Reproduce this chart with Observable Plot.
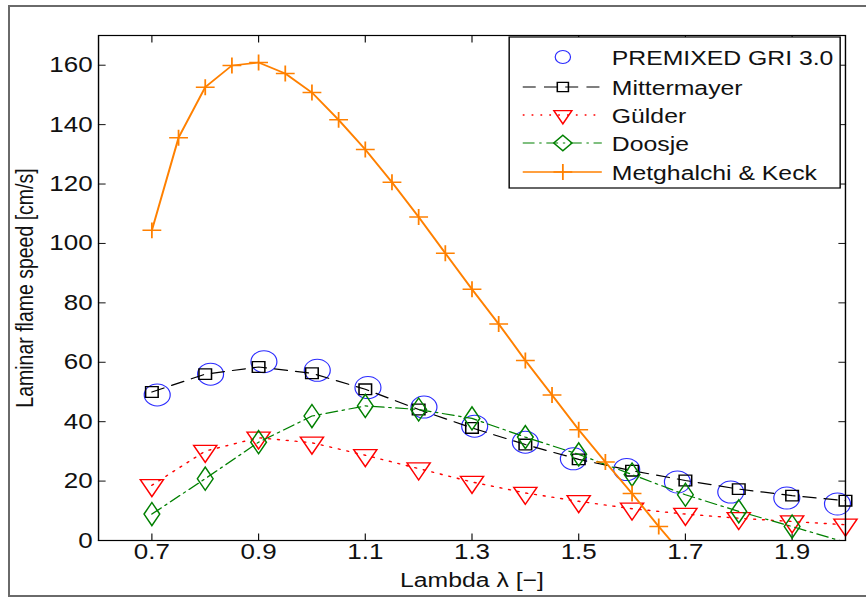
<!DOCTYPE html>
<html>
<head>
<meta charset="utf-8">
<script src="https://cdn.jsdelivr.net/npm/d3@7"></script>
<script src="https://cdn.jsdelivr.net/npm/@observablehq/plot@0.6"></script>
<style>
  html, body { margin: 0; padding: 0; background: #fff; width: 866px; height: 597px; overflow: hidden; }
  #wrap { position: relative; width: 866px; height: 597px; overflow: hidden; }
  #chart svg { position: absolute; left: 0; top: 0; transform: scaleX(1.18); transform-origin: 0 0; }
  #outer { position: absolute; left: 8px; top: 5px; width: 1000px; height: 588px; border: 2px solid #6a6a6a; pointer-events: none; }
</style>
</head>
<body>
<div id="wrap"><div id="chart"></div><div id="outer"></div></div>
<script>
// ---- data ----
const xTicks = [0.7, 0.9, 1.1, 1.3, 1.5, 1.7, 1.9];
const yTicks = [0, 20, 40, 60, 80, 100, 120, 140, 160];

const lambda = [0.7, 0.8, 0.9, 1.0, 1.1, 1.2, 1.3, 1.4, 1.5, 1.6, 1.7, 1.8, 1.9, 2.0];
const mittermayer = [50.0, 56.0, 58.4, 56.3, 50.9, 44.1, 37.9, 32.3, 27.3, 23.5, 20.2, 17.3, 15.1, 13.4];
const gulder = [18.6, 30.1, 34.6, 32.9, 28.7, 24.2, 19.7, 16.0, 13.2, 10.7, 8.9, 7.5, 6.4, 5.3];
const doosje = [8.9, 20.8, 33.1, 41.9, 45.3, 44.1, 41.1, 34.8, 29.0, 22.2, 15.4, 9.8, 4.7, -0.6];

const griLambda = [0.71, 0.81, 0.91, 1.01, 1.105, 1.21, 1.305, 1.40, 1.49, 1.59, 1.685, 1.785, 1.89, 1.985];
const gri = [49.0, 56.0, 60.2, 57.3, 51.5, 44.9, 38.5, 33.1, 27.5, 23.9, 19.7, 16.3, 14.3, 12.3];

const mkLambda = [0.7, 0.75, 0.8, 0.85, 0.9, 0.95, 1.0, 1.05, 1.1, 1.15, 1.2, 1.25, 1.3, 1.35, 1.4, 1.45, 1.5, 1.55, 1.6, 1.65, 1.7];
const metghalchiKeck = [104.4, 135.6, 152.6, 159.9, 160.9, 157.2, 150.8, 141.6, 131.6, 120.6, 108.9, 96.7, 84.6, 72.9, 60.6, 49.0, 37.3, 26.4, 15.8, 4.7, -5.8];

const seriesNames = ["PREMIXED GRI 3.0", "Mittermayer", "Gülder", "Doosje", "Metghalchi & Keck"];
const xLabel = "Lambda λ [−]";
const yLabel = "Laminar flame speed [cm/s]";

// ---- build tables ----
const rows = (xs, ys) => xs.map((x, i) => ({x, y: ys[i]}));
const griRows = rows(griLambda, gri);
const mitRows = rows(lambda, mittermayer);
const gulRows = rows(lambda, gulder);
const dooRows = rows(lambda, doosje);
const mkRows = rows(mkLambda, metghalchiKeck);
const visible = d => d.y >= 0;

const FONT = "'Liberation Sans', Arial, Helvetica, sans-serif";
const colors = {gri: "#2b2bff", mit: "#000000", gul: "#ff0000", doo: "#008000", mk: "#ff8000"};
const W = 734, H = 597;

const chart = Plot.plot({
  width: W, height: H,
  marginLeft: 83, marginRight: 18, marginTop: 35, marginBottom: 57,
  style: {fontFamily: FONT, background: "none", color: "#111", overflow: "visible"},
  x: {domain: [0.6, 2.0]},
  y: {domain: [0, 170]},
  marks: [
    Plot.axisX({ticks: xTicks, anchor: "bottom", tickSize: 0, tickPadding: 3, fontSize: 22, tickFormat: d3.format(".1f"), label: null}),
    Plot.axisX({ticks: xTicks, anchor: "bottom", tickSize: -6.5, tickFormat: () => "", label: null}),
    Plot.axisX({ticks: xTicks, anchor: "top", tickSize: -6.5, tickFormat: () => "", label: null}),
    Plot.axisY({ticks: yTicks, anchor: "left", tickSize: 0, tickPadding: 5, fontSize: 22, tickFormat: d => d, label: null}),
    Plot.axisY({ticks: yTicks, anchor: "left", tickSize: -6.5, tickFormat: () => "", label: null}),
    Plot.axisY({ticks: yTicks, anchor: "right", tickSize: -6.5, tickFormat: () => "", label: null}),
    Plot.text([xLabel], {frameAnchor: "bottom", lineAnchor: "middle", textAnchor: "middle", dy: 40, fontSize: 21, fill: "#111"}),
    Plot.text([yLabel], {frameAnchor: "left", lineAnchor: "middle", textAnchor: "middle", dx: -62, rotate: -90, fontSize: 19.5, fill: "#111"}),

    // PREMIXED GRI 3.0: markers only
    Plot.dot(griRows, {x: "x", y: "y", r: 11, symbol: "circle", stroke: colors.gri, strokeWidth: 1, fill: "none"}),
    // Mittermayer
    Plot.line(mitRows, {x: "x", y: "y", stroke: colors.mit, strokeWidth: 1.2, strokeDasharray: "11,7", clip: true}),
    Plot.dot(mitRows, {x: "x", y: "y", r: 6, symbol: "square", stroke: colors.mit, strokeWidth: 1.3, fill: "none", filter: visible}),
    // Gülder
    Plot.line(gulRows, {x: "x", y: "y", stroke: colors.gul, strokeWidth: 1.4, strokeDasharray: "1.5,6", clip: true}),
    Plot.dot(gulRows, {x: "x", y: "y", r: 7.3, symbol: "triangle", rotate: 180, stroke: colors.gul, strokeWidth: 1.3, fill: "none", filter: visible}),
    // Doosje
    Plot.line(dooRows, {x: "x", y: "y", stroke: colors.doo, strokeWidth: 1.2, strokeDasharray: "10,4,2,4", clip: true}),
    Plot.dot(dooRows, {x: "x", y: "y", r: 7, symbol: "diamond", stroke: colors.doo, strokeWidth: 1.3, fill: "none", filter: visible}),
    // Metghalchi & Keck
    Plot.line(mkRows, {x: "x", y: "y", stroke: colors.mk, strokeWidth: 1.7, clip: true}),
    Plot.dot(mkRows, {x: "x", y: "y", r: 5.2, symbol: "plus", stroke: colors.mk, strokeWidth: 1.5, fill: "none", filter: visible}),

    Plot.frame({stroke: "#000", strokeWidth: 1.2})
  ]
});
document.getElementById("chart").appendChild(chart);

// ---- legend (drawn into the plot's SVG) ----
const svg = d3.select(chart);
const lg = svg.append("g").attr("font-family", FONT).attr("text-anchor", "start");
const box = {x: 431.5, y: 37, w: 280.5, h: 151};
lg.append("rect").attr("x", box.x).attr("y", box.y).attr("width", box.w).attr("height", box.h)
  .attr("fill", "#fff").attr("stroke", "#000").attr("stroke-width", 1.2);
const legendItems = [
  {name: seriesNames[0], color: colors.gri, dash: null, line: false, sym: d3.symbolCircle, r: 6.5, rot: 0, sw: 1, lw: 1.2},
  {name: seriesNames[1], color: colors.mit, dash: "11,7", line: true, sym: d3.symbolSquare2, r: 6, rot: 0, sw: 1.3, lw: 1.2},
  {name: seriesNames[2], color: colors.gul, dash: "1.5,6", line: true, sym: d3.symbolTriangle2, r: 7.3, rot: 180, sw: 1.3, lw: 1.4},
  {name: seriesNames[3], color: colors.doo, dash: "10,4,2,4", line: true, sym: d3.symbolDiamond2, r: 7, rot: 0, sw: 1.3, lw: 1.2},
  {name: seriesNames[4], color: colors.mk, dash: null, line: true, sym: d3.symbolPlus, r: 5.2, rot: 0, sw: 1.5, lw: 1.7}
];
const rowY = [57, 87, 115, 143, 172];
legendItems.forEach((it, i) => {
  const y = rowY[i];
  if (it.line) {
    lg.append("line").attr("x1", 443).attr("x2", 510).attr("y1", y).attr("y2", y)
      .attr("stroke", it.color).attr("stroke-width", it.lw)
      .attr("stroke-dasharray", it.dash);
  }
  lg.append("path").attr("d", d3.symbol(it.sym, Math.PI * it.r * it.r)())
    .attr("transform", `translate(477,${y}) rotate(${it.rot})`)
    .attr("fill", "none").attr("stroke", it.color).attr("stroke-width", it.sw);
  lg.append("text").attr("x", 518.5).attr("y", y).attr("dy", "0.36em")
    .attr("font-size", 21).attr("fill", "#111").text(it.name);
});
</script>
</body>
</html>
